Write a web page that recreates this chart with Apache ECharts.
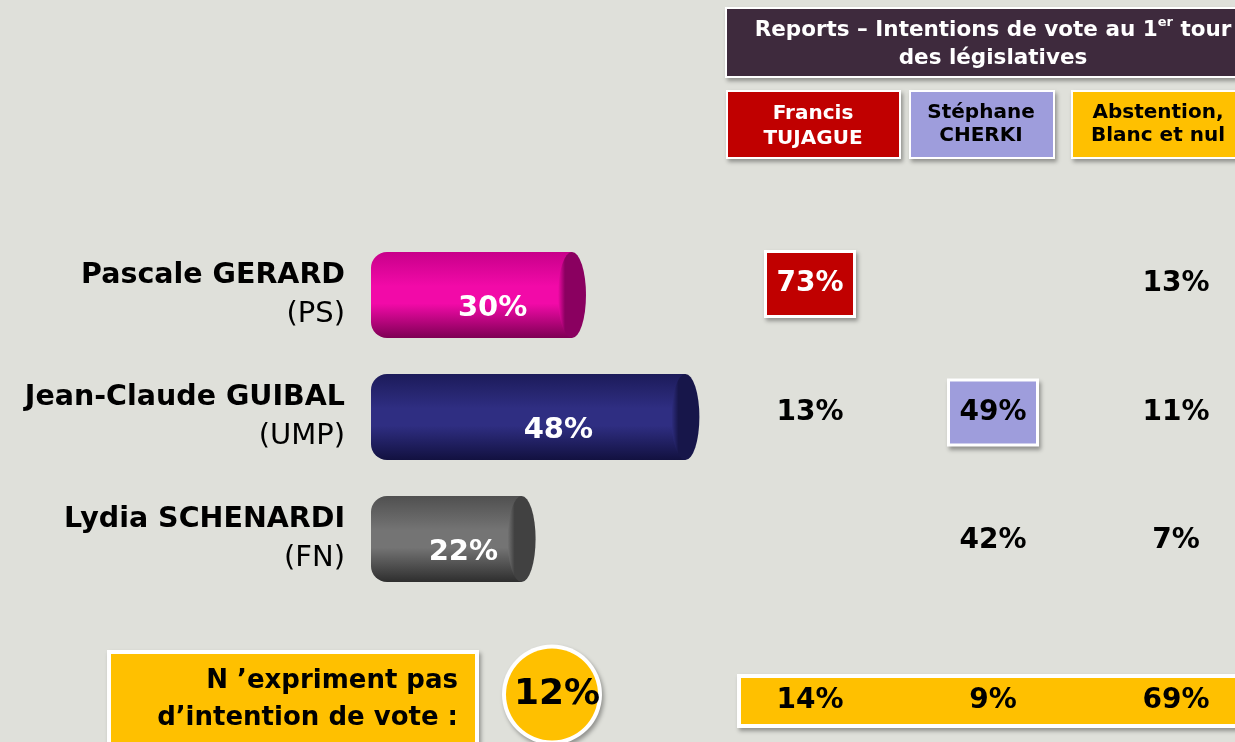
<!DOCTYPE html>
<html lang="fr">
<head>
  <meta charset="UTF-8">
  <title>Reports - législatives</title>
  <style>
    body { margin: 0; padding: 0; background: #dfe0da; }
    #chart { width: 1235px; height: 742px; }
  </style>
  <script src="https://cdn.jsdelivr.net/npm/echarts@6/dist/echarts.min.js"></script>
</head>
<body>
  <div id="chart"></div>
  <script>
    // Candidates on the left (1st round) and their scores
    const candidates = ['Pascale GERARD', 'Jean-Claude GUIBAL', 'Lydia SCHENARDI'];
    const parties = ['(PS)', '(UMP)', '(FN)'];
    const scores = [30, 48, 22];

    // Transfers to the legislative 1st round, one array per column (null = empty cell)
    const columns = ['Francis\nTUJAGUE', 'Stéphane\nCHERKI', 'Abstention,\nBlanc et nul'];
    const toTujague = [73, 13, null];
    const toCherki = [null, 49, 42];
    const toAbstention = [13, 11, 7];
    const highlighted = [[0, 0], [1, 1]]; // [column, row]

    // People who gave no voting intention
    const noIntention = 12;
    const noIntentionSplit = [14, 9, 69];

    const font = 'DejaVu Sans';
    const shadow = { shadowBlur: 4, shadowOffsetX: 2, shadowOffsetY: 3, shadowColor: 'rgba(0,0,0,0.35)' };

    // cylinder colours
    const cyl = [
      { top: '#c8008a', edge: '#7e0054', mid: '#f20aa8', cap: '#8a0060' },
      { top: '#1c1b5a', edge: '#121140', mid: '#2f2e82', cap: '#17164a' },
      { top: '#505050', edge: '#2e2e2e', mid: '#747474', cap: '#414141' }
    ];

    function renderCylinder(params, api) {
      const row = api.value(1);
      const v = api.value(0);
      const start = api.coord([0, row]);
      const end = api.coord([v, row]);
      const h = 86, rx = 14;
      const c = cyl[params.dataIndex];
      const grad = new echarts.graphic.LinearGradient(0, 0, 0, 1, [
        { offset: 0, color: c.top },
        { offset: 0.4, color: c.mid },
        { offset: 0.6, color: c.mid },
        { offset: 1, color: c.edge }
      ]);
      const capGrad = new echarts.graphic.LinearGradient(0, 0, 1, 0, [
        { offset: 0, color: c.mid },
        { offset: 0.25, color: c.cap },
        { offset: 1, color: c.cap }
      ]);
      return {
        type: 'group',
        children: [
          { type: 'rect', shape: { x: start[0] - 12, y: start[1] - h / 2, width: end[0] - start[0] + 12, height: h, r: [16, 0, 0, 16] },
            style: { fill: grad } },
          { type: 'circle', x: end[0], y: end[1], scaleX: rx / (h / 2),
            shape: { cx: 0, cy: 0, r: h / 2 }, style: { fill: capGrad } },
          { type: 'text', x: start[0] + (end[0] - start[0]) * 0.58, y: start[1] + 13,
            style: { text: v + '%', fill: '#fff', font: 'bold 29px ' + font, align: 'center', verticalAlign: 'middle' } }
        ]
      };
    }

    // table cells
    const tableData = [];
    const hlFrames = [];
    [toTujague, toCherki, toAbstention].forEach(function (col, ci) {
      col.forEach(function (val, ri) {
        if (val === null) return;
        const hl = highlighted.some(function (p) { return p[0] === ci && p[1] === ri; });
        if (hl) hlFrames.push([ci, ri]);
        tableData.push({
          value: [ci, ri, val],
          symbolSize: hl ? [86, 62] : 0,
          itemStyle: hl ? { color: ci === 0 ? '#c00000' : '#9e9ddc' } : {},
          label: { color: hl && ci === 0 ? '#fff' : '#000' }
        });
      });
    });

    // framed box with outer shadow: white frame + coloured inside
    function box(x, y, w, h, fill, border) {
      return {
        type: 'group', z: -1,
        children: [
          { type: 'rect', shape: { x: x - border, y: y - border, width: w + 2 * border, height: h + 2 * border },
            style: Object.assign({ fill: '#fff' }, shadow) },
          { type: 'rect', shape: { x: x, y: y, width: w, height: h }, style: { fill: fill } }
        ]
      };
    }

    const chart = echarts.init(document.getElementById('chart'));
    const option = {
      backgroundColor: '#dfe0da',
      animation: false,
      grid: [
        { left: 383, top: 234, width: 630, height: 366 },
        { left: 810, top: 284, width: 366, height: 257 },
        { left: 810, top: 675, width: 366, height: 52 },
        { left: 503, top: 647, width: 98, height: 98 }
      ],
      xAxis: [
        { gridIndex: 0, type: 'value', min: 0, max: 100, show: false },
        { gridIndex: 1, type: 'value', min: 0, max: 2, show: false },
        { gridIndex: 2, type: 'value', min: 0, max: 2, show: false },
        { gridIndex: 3, type: 'category', data: [''], show: false }
      ],
      yAxis: [
        {
          gridIndex: 0, type: 'category', data: candidates, inverse: true,
          axisLine: { show: false }, axisTick: { show: false }, splitLine: { show: false },
          axisLabel: {
            margin: 38,
            formatter: function (name, i) { return '{n|' + name + '}\n{p|' + parties[i] + '}'; },
            rich: {
              n: { fontFamily: font, fontWeight: 'bold', fontSize: 28.5, color: '#000', lineHeight: 39, align: 'right' },
              p: { fontFamily: font, fontSize: 29, color: '#000', lineHeight: 39, align: 'right' }
            }
          }
        },
        { gridIndex: 1, type: 'value', min: 0, max: 2, inverse: true, show: false },
        { gridIndex: 2, type: 'category', data: [''], show: false },
        { gridIndex: 3, type: 'category', data: [''], show: false }
      ],
      series: [
        {
          type: 'custom', xAxisIndex: 0, yAxisIndex: 0,
          data: scores.map(function (s, i) { return [s, i]; }),
          renderItem: renderCylinder,
          clip: false
        },
        {
          // white frames with shadow under the highlighted cells
          type: 'scatter', xAxisIndex: 1, yAxisIndex: 1, symbol: 'rect', symbolSize: [92, 68], z: 1,
          itemStyle: Object.assign({ color: '#fff', opacity: 1 }, shadow),
          data: hlFrames
        },
        {
          type: 'scatter', xAxisIndex: 1, yAxisIndex: 1, symbol: 'rect', z: 2,
          itemStyle: { opacity: 1 },
          data: tableData,
          label: {
            show: true, position: 'inside', fontFamily: font, fontWeight: 'bold', fontSize: 28,
            formatter: function (p) { return p.value[2] + '%'; }
          }
        },
        {
          type: 'scatter', xAxisIndex: 2, yAxisIndex: 2, symbolSize: 0,
          itemStyle: { opacity: 1 },
          data: noIntentionSplit.map(function (v, i) { return [i, 0, v]; }),
          label: {
            show: true, position: 'inside', fontFamily: font, fontWeight: 'bold', fontSize: 28, color: '#000',
            formatter: function (p) { return p.value[2] + '%'; }
          }
        },
        {
          type: 'scatter', xAxisIndex: 3, yAxisIndex: 3, symbol: 'circle', symbolSize: 100, z: 1,
          data: [[0, 0]],
          itemStyle: Object.assign({ color: '#fff', opacity: 1 }, shadow)
        },
        {
          type: 'scatter', xAxisIndex: 3, yAxisIndex: 3, symbol: 'circle', symbolSize: 92, z: 2,
          data: [[0, 0, noIntention]],
          itemStyle: { color: '#ffc000', opacity: 1 },
          label: {
            show: true, position: 'inside', offset: [5, 0], fontFamily: font, fontWeight: 'bold', fontSize: 36, color: '#000',
            formatter: function (p) { return p.value[2] + '%'; }
          }
        }
      ],
      graphic: [
        // header
        box(727, 9, 530, 67, '#3e2a3d', 2),
        { type: 'text', x: 993, y: 44,
          style: {
            text: '{t|Reports – Intentions de vote au 1}{s|er}{t| tour}\n{t|des législatives}',
            align: 'center', verticalAlign: 'middle',
            rich: {
              t: { fontFamily: font, fontWeight: 'bold', fontSize: 21.5, fill: '#fff', lineHeight: 28 },
              s: { fontFamily: font, fontWeight: 'bold', fontSize: 13, fill: '#fff', lineHeight: 28, verticalAlign: 'top', padding: [0, 0, 8, 0] }
            }
          } },
        // column headers
        box(728, 92, 171, 65, '#c00000', 2),
        box(911, 92, 142, 65, '#9e9ddc', 2),
        box(1073, 92, 180, 65, '#ffc000', 2),
        { type: 'text', x: 813, y: 126,
          style: { text: columns[0], fill: '#fff', font: 'bold 20px ' + font, align: 'center', verticalAlign: 'middle', lineHeight: 25 } },
        { type: 'text', x: 981, y: 124,
          style: { text: columns[1], fill: '#000', font: 'bold 20px ' + font, align: 'center', verticalAlign: 'middle', lineHeight: 23 } },
        { type: 'text', x: 1158, y: 124,
          style: { text: columns[2], fill: '#000', font: 'bold 20px ' + font, align: 'center', verticalAlign: 'middle', lineHeight: 23 } },
        // bottom strip behind the split values
        box(741, 678, 520, 46, '#ffc000', 4),
        // "no intention" box
        box(111, 654, 364, 100, '#ffc000', 4),
        { type: 'text', x: 458, y: 700,
          style: { text: 'N ’expriment pas\nd’intention de vote :', fill: '#000', font: 'bold 26px ' + font,
            align: 'right', verticalAlign: 'middle', lineHeight: 37 } }
      ]
    };
    chart.setOption(option);
  </script>
</body>
</html>
